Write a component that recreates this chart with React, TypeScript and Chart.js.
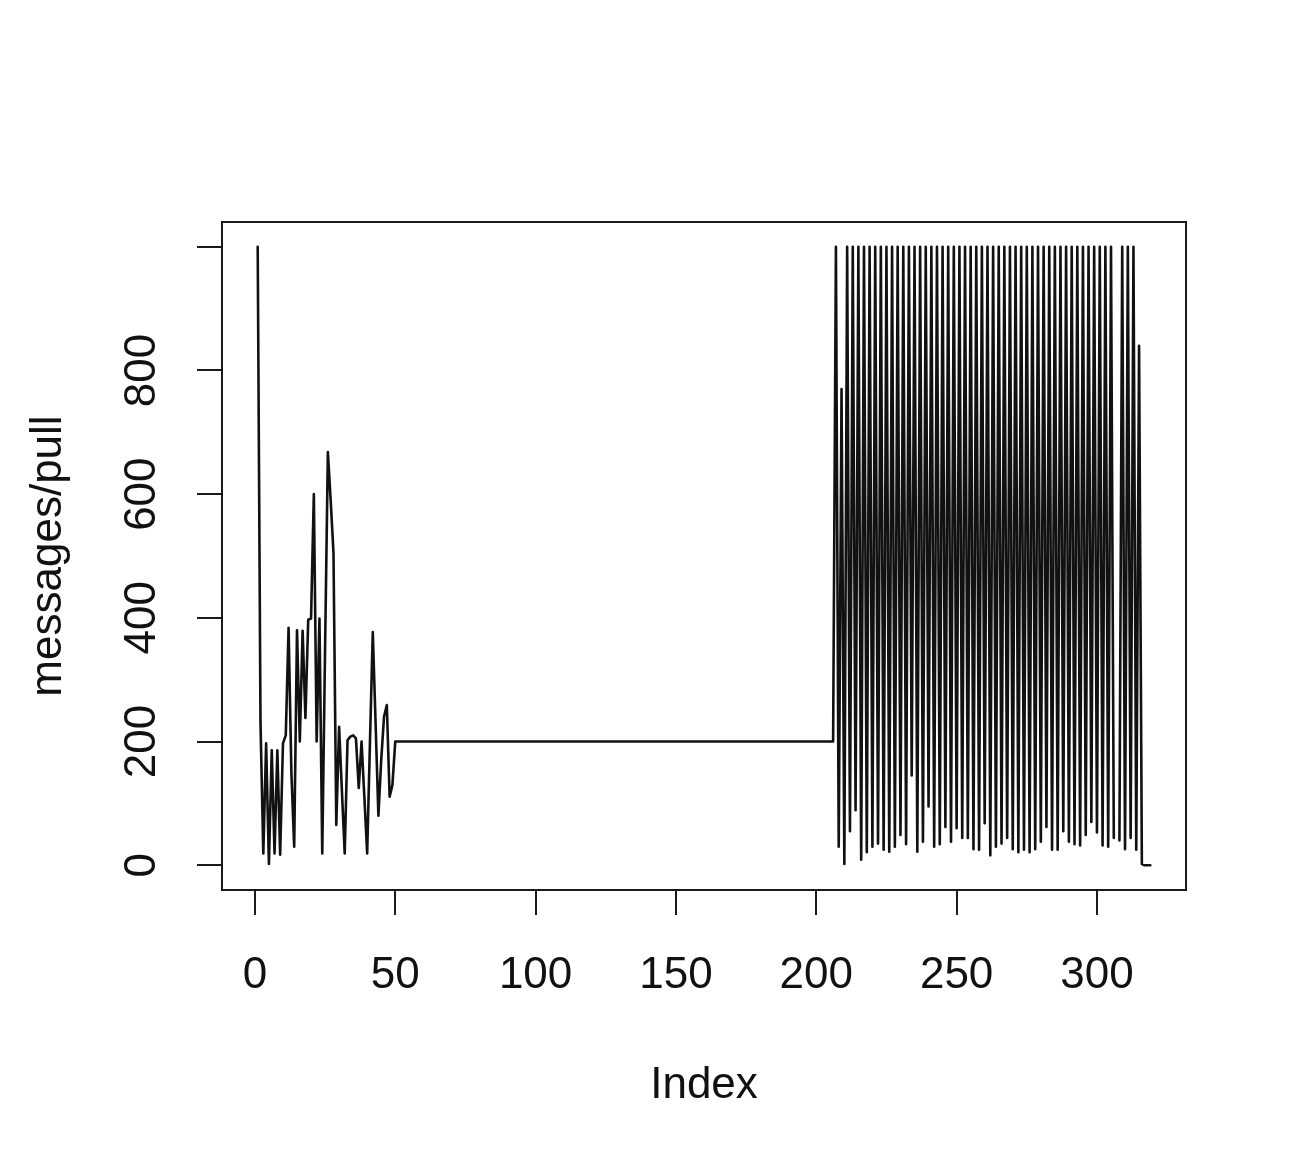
import React, { useEffect, useRef } from "react";
import { Chart, registerables } from "chart.js";

Chart.register(...registerables);

// Index 1..50
const startValues: (number | null)[] = [
  1000, 230, 19, 197, 2, 186, 19, 186, 17, 197,
  210, 384, 150, 30, 380, 200, 379, 238, 397, 399,
  600, 200, 399, 19, 350, 668, 590, 505, 65, 224,
  120, 19, 202, 208, 210, 205, 125, 200, 110, 19,
  200, 377, 230, 80, 170, 240, 259, 111, 130, 200,
];

// Index 51..206
const plateauValues: (number | null)[] = [
  200, 200, 200, 200, 200, 200, 200, 200, 200, 200, 200, 200,
  200, 200, 200, 200, 200, 200, 200, 200, 200, 200, 200, 200,
  200, 200, 200, 200, 200, 200, 200, 200, 200, 200, 200, 200,
  200, 200, 200, 200, 200, 200, 200, 200, 200, 200, 200, 200,
  200, 200, 200, 200, 200, 200, 200, 200, 200, 200, 200, 200,
  200, 200, 200, 200, 200, 200, 200, 200, 200, 200, 200, 200,
  200, 200, 200, 200, 200, 200, 200, 200, 200, 200, 200, 200,
  200, 200, 200, 200, 200, 200, 200, 200, 200, 200, 200, 200,
  200, 200, 200, 200, 200, 200, 200, 200, 200, 200, 200, 200,
  200, 200, 200, 200, 200, 200, 200, 200, 200, 200, 200, 200,
  200, 200, 200, 200, 200, 200, 200, 200, 200, 200, 200, 200,
  200, 200, 200, 200, 200, 200, 200, 200, 200, 200, 200, 200,
  200, 200, 200, 200, 200, 200, 200, 200, 200, 200, 200, 200,
];

// Index 207..319
const burstValues: (number | null)[] = [
  1000, 30, 770, 2, 1000, 55, 1000, 89, 1000, 9,
  1000, 21, 1000, 30, 1000, 35, 1000, 25, 1000, 22,
  1000, 30, 1000, 49, 1000, 34, 1000, 145, 1000, 22,
  1000, 38, 1000, 95, 1000, 30, 1000, 34, 1000, 62,
  1000, 38, 1000, 60, 1000, 44, 1000, 44, 1000, 26,
  1000, 25, 1000, 68, 1000, 16, 1000, 30, 1000, 35,
  1000, 44, 1000, 26, 1000, 21, 1000, 25, 1000, 21,
  1000, 26, 1000, 38, 1000, 62, 1000, 25, 1000, 25,
  1000, 55, 1000, 38, 1000, 34, 1000, 32, 1000, 49,
  1000, 70, 1000, 53, 1000, 32, 1000, 30, 1000, 44,
  null, 40, 1000, 26, 1000, 44, 1000, 25, 840, 2,
  0, 0, 0,
];

const xTicks = [0, 50, 100, 150, 200, 250, 300];
const yTicks = [0, 200, 400, 600, 800, 1000];
const yTickLabels = ["0", "200", "400", "600", "800", ""];
const xTitle = "Index";
const yTitle = "messages/pull";

export default function App() {
  const ref = useRef<HTMLCanvasElement>(null);

  useEffect(() => {
    if (!ref.current) return;
    const values = [...startValues, ...plateauValues, ...burstValues];
    const index = values.map((_, i) => i + 1);
    const n = index.length;
    const xMin = 1 - 0.04 * (n - 1);
    const xMax = n + 0.04 * (n - 1);
    const font = { family: "'Liberation Sans', Arial, Helvetica, sans-serif", size: 44 };

    const boxPlugin = {
      id: "rbox",
      afterDraw(chart: any) {
        const { ctx, chartArea: a } = chart;
        ctx.save();
        ctx.strokeStyle = "#1a1a1a";
        ctx.lineWidth = 2;
        ctx.strokeRect(a.left, a.top, a.right - a.left, a.bottom - a.top);
        ctx.restore();
      },
    };

    const chart = new Chart(ref.current, {
      type: "line",
      data: {
        labels: index,
        datasets: [
          {
            data: values,
            borderColor: "#111",
            borderWidth: 2.6,
            pointRadius: 0,
            tension: 0,
            spanGaps: false,
            fill: false,
            borderJoinStyle: "round",
            borderCapStyle: "round",
          },
        ],
      },
      options: {
        responsive: false,
        animation: false,
        devicePixelRatio: 1,
        layout: { padding: { top: 222, right: 114, left: 0, bottom: 0 } },
        plugins: { legend: { display: false }, tooltip: { enabled: false } },
        scales: {
          x: {
            type: "linear",
            min: xMin,
            max: xMax,
            afterBuildTicks: (s: any) => {
              s.ticks = xTicks.map((v) => ({ value: v }));
            },
            afterFit: (s: any) => {
              s.height = 280;
            },
            border: { display: false },
            grid: { drawOnChartArea: false, drawTicks: true, tickLength: 25, color: "#1a1a1a", lineWidth: 2 },
            ticks: {
              font,
              color: "#111",
              padding: 34,
              maxRotation: 0,
              autoSkip: false,
              callback: (v: any) => String(v),
            },
            title: { display: true, text: xTitle, font, color: "#111", padding: { top: 0, bottom: 58 } },
          },
          y: {
            type: "linear",
            min: -40,
            max: 1040,
            afterBuildTicks: (s: any) => {
              s.ticks = yTicks.map((v) => ({ value: v }));
            },
            afterFit: (s: any) => {
              s.width = 222;
            },
            border: { display: false },
            grid: { drawOnChartArea: false, drawTicks: true, tickLength: 25, color: "#1a1a1a", lineWidth: 2 },
            ticks: {
              font,
              color: "#111",
              padding: 17,
              minRotation: 90,
              maxRotation: 90,
              crossAlign: "center",
              autoSkip: false,
              callback: (v: any) => {
                const k = yTicks.indexOf(Number(v));
                return k >= 0 ? yTickLabels[k] : "";
              },
            },
            title: { display: true, text: yTitle, font, color: "#111", padding: { top: 22, bottom: 0 } },
          },
        },
      } as any,
      plugins: [boxPlugin],
    });
    return () => chart.destroy();
  }, []);

  return (
    <div style={{ position: "absolute", left: 0, top: 0, width: 1300, height: 1170, background: "#fff" }}>
      <canvas ref={ref} width={1300} height={1170} style={{ width: 1300, height: 1170, display: "block" }} />
    </div>
  );
}
